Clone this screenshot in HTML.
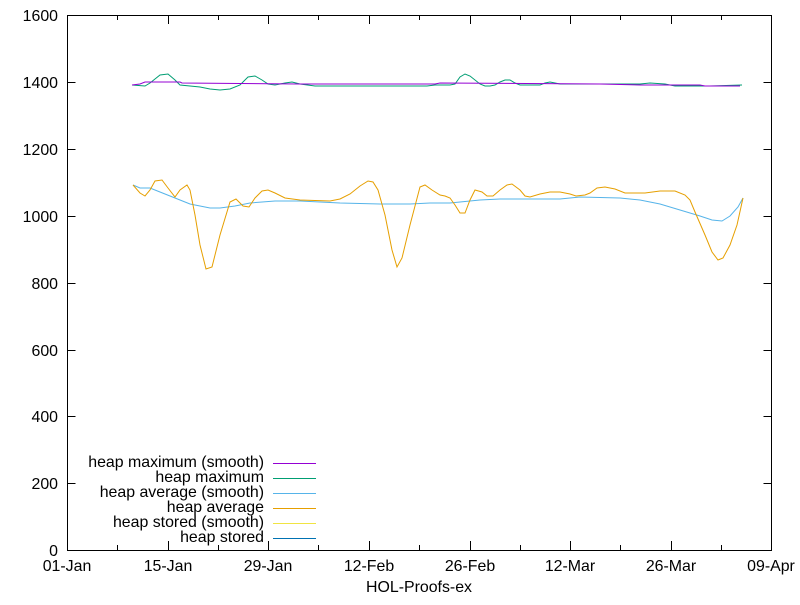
<!DOCTYPE html>
<html><head><meta charset="utf-8"><style>
body{margin:0;background:#fff}
text{font-family:"Liberation Sans",sans-serif;font-size:15.9px;fill:#000}
</style></head><body>
<svg width="800" height="600" xmlns="http://www.w3.org/2000/svg">
<rect width="800" height="600" fill="#fff"/>
<g stroke="#000" stroke-width="1" fill="none">
<rect x="67.5" y="15.5" width="704" height="535"/>
<path d="M67.5 550.5h8M771.5 550.5h-8M67.5 483.5h8M771.5 483.5h-8M67.5 416.5h8M771.5 416.5h-8M67.5 350.5h8M771.5 350.5h-8M67.5 283.5h8M771.5 283.5h-8M67.5 216.5h8M771.5 216.5h-8M67.5 149.5h8M771.5 149.5h-8M67.5 82.5h8M771.5 82.5h-8M67.5 15.5h8M771.5 15.5h-8"/>
<path d="M117.5 550v-5M117.5 15v5M168.5 550v-9M168.5 15v9M218.5 550v-5M218.5 15v5M268.5 550v-9M268.5 15v9M318.5 550v-5M318.5 15v5M369.5 550v-9M369.5 15v9M419.5 550v-5M419.5 15v5M470.5 550v-9M470.5 15v9M520.5 550v-5M520.5 15v5M570.5 550v-9M570.5 15v9M620.5 550v-5M620.5 15v5M671.5 550v-9M671.5 15v9M721.5 550v-5M721.5 15v5"/>
</g>
<g text-anchor="end">
<text x="58" y="556">0</text><text x="58" y="489">200</text><text x="58" y="422">400</text><text x="58" y="356">600</text><text x="58" y="289">800</text><text x="58" y="222">1000</text><text x="58" y="155">1200</text><text x="58" y="88">1400</text><text x="58" y="21">1600</text>
</g>
<g text-anchor="middle">
<text x="67" y="571">01-Jan</text><text x="168" y="571">15-Jan</text><text x="268" y="571">29-Jan</text><text x="369" y="571">12-Feb</text><text x="470" y="571">26-Feb</text><text x="570" y="571">12-Mar</text><text x="671" y="571">26-Mar</text><text x="771" y="571">09-Apr</text>
<text x="419" y="592">HOL-Proofs-ex</text>
</g>
<g fill="none" stroke-width="1">
<polyline stroke="#009e73" points="132,85 145,86 150,83 160,75 168,74 175,80 180,85 190,86 200,87 210,89 220,90 230,89 240,85 248,77 255,76 262,80 268,84 275,85 280,84 285,83 292,82 300,84 315,86 350,86 427,86 435,85 450,85 455,84 460,77 465,74 470,76 480,84 485,86 490,86 495,85 500,82 505,80 510,80 515,83 520,85 540,85 545,83 550,82 555,83 560,84 640,84 650,83 665,84 675,86 710,86 742,85"/>
<polyline stroke="#9400d3" points="132,85 140,84 145,82 180,82 182,83 300,84 435,84 440,83 600,84 640,85 700,85 705,86 740,86"/>
<polyline stroke="#56b4e9" points="133,185 140,188 150,188 160,192 170,196 180,200 190,204 200,206 210,208 220,208 235,206 250,203 275,201 300,201 340,203 380,204 410,204 430,203 450,203 460,202 480,200 500,199 560,199 580,197 620,198 640,200 660,204 680,210 700,216 712,220 722,221 730,216 738,207 743,198"/>
<polyline stroke="#e69f00" points="133,185 140,193 145,196 150,190 155,181 162,180 168,188 175,197 180,190 187,185 190,190 195,215 200,245 206,269 212,267 220,235 230,202 236,199 243,206 249,207 255,198 262,191 268,190 275,193 285,198 300,200 330,201 340,199 350,194 360,186 368,181 373,182 378,190 385,215 392,250 397,267 402,258 410,225 420,187 425,185 432,190 440,195 445,196 450,198 455,205 460,213 465,213 470,200 475,190 482,192 487,196 493,196 500,190 507,185 512,184 520,190 525,196 530,197 540,194 550,192 560,192 570,194 576,196 585,195 590,193 597,188 605,187 615,189 625,193 645,193 660,191 675,191 685,195 690,200 695,212 705,235 712,252 718,260 723,258 730,245 737,225 743,198"/>
</g>
<g text-anchor="end">
<text x="264" y="467">heap maximum (smooth)</text>
<text x="264" y="482">heap maximum</text>
<text x="264" y="497">heap average (smooth)</text>
<text x="264" y="512">heap average</text>
<text x="264" y="527">heap stored (smooth)</text>
<text x="264" y="542">heap stored</text>
</g>
<g stroke-width="1">
<line x1="273" x2="316" y1="463.5" y2="463.5" stroke="#9400d3"/>
<line x1="273" x2="316" y1="478.5" y2="478.5" stroke="#009e73"/>
<line x1="273" x2="316" y1="493.5" y2="493.5" stroke="#56b4e9"/>
<line x1="273" x2="316" y1="508.5" y2="508.5" stroke="#e69f00"/>
<line x1="273" x2="316" y1="523.5" y2="523.5" stroke="#f0e442"/>
<line x1="273" x2="316" y1="538.5" y2="538.5" stroke="#0072b2"/>
</g>
</svg>
</body></html>
